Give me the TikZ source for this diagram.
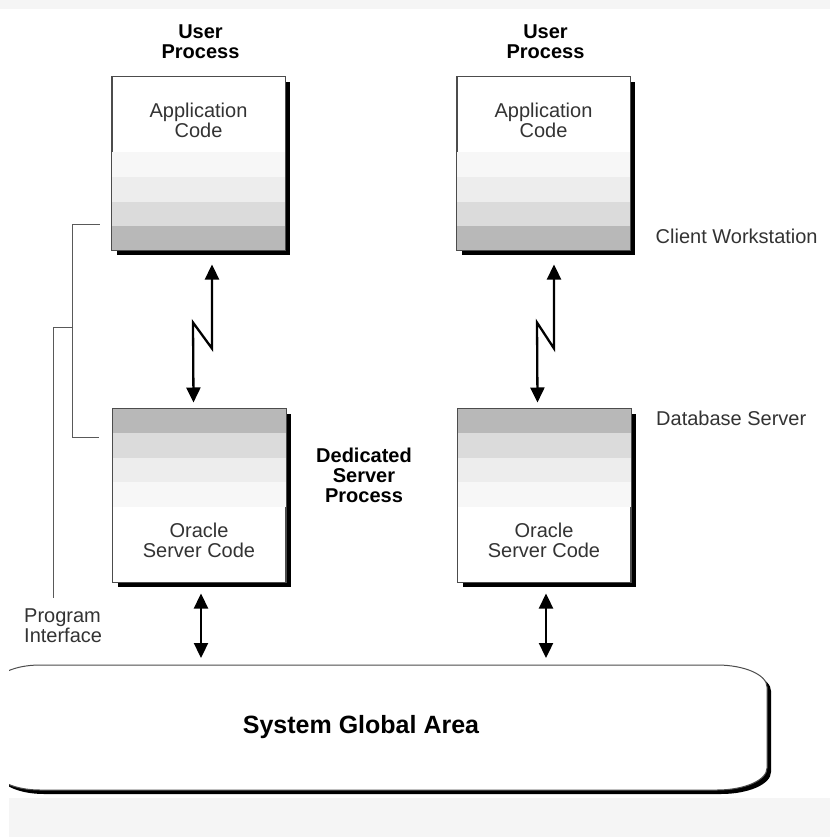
\documentclass[tikz,border=0pt]{standalone}
\usepackage{fontspec}
\setmainfont{Liberation Sans}
\usetikzlibrary{positioning,arrows.meta,shadows}

\tikzset{
  procbox/.style={draw=black!70, line width=1pt, fill=white, inner sep=0pt,
    minimum width=173pt, minimum height=173pt,
    drop shadow={shadow xshift=5pt, shadow yshift=-5pt, fill=black, opacity=1}},
  boxline/.style={draw=black!70, line width=1pt},
  lbl/.style={inner sep=0pt, align=center, text=black!80, font=\fontsize{20}{20}\selectfont},
  blbl/.style={inner sep=0pt, align=center, font=\bfseries\fontsize{20}{20}\selectfont},
  link/.style={line width=2.3pt, {Triangle[length=15pt,width=14pt]}-{Triangle[length=15pt,width=14pt]}},
  brace/.style={draw=black!65, line width=0.9pt}
}

\begin{document}
\begin{tikzpicture}[x=1pt, y=-1pt]
    \useasboundingbox (0,0) rectangle (830,837);
    \clip (0,0) rectangle (830,837);
    \fill[white] (0,0) rectangle (830,837);
    \fill[black!4] (0,0) rectangle (830,9);
    \fill[black!4] (9,798) rectangle (830,837);

    % user side and server side
    \node (app1) [procbox] at (198.5,163.5) {};
    \node (app2) [procbox] at (543.5,163.5) {};
    \node (srv1) [procbox] at (199,495.5) {};
    \node (srv2) [procbox] at (544,495.5) {};

    % grey bands
    \foreach \b in {app1,app2} {
        \foreach \i/\c in {0/28,1/14,2/7,3/3}
            \fill[black!\c] ([yshift=\i*24.5pt]\b.south west) rectangle ([yshift=\i*24.5pt+24.5pt]\b.south east);
        \draw[boxline] (\b.north west) rectangle (\b.south east);
    }
    \foreach \b in {srv1,srv2} {
        \foreach \i/\c in {0/28,1/14,2/7,3/3}
            \fill[black!\c] ([yshift=-\i*24.5pt]\b.north west) rectangle ([yshift=-\i*24.5pt-24.5pt]\b.north east);
        \draw[boxline] (\b.north west) rectangle (\b.south east);
    }

    \node [lbl, yshift=-44pt] at (app1.north) {Application\\Code};
    \node [lbl, yshift=-44pt] at (app2.north) {Application\\Code};
    \node [lbl, yshift=42pt] at (srv1.south) {Oracle\\Server Code};
    \node [lbl, yshift=42pt] at (srv2.south) {Oracle\\Server Code};

    \node (up1) [blbl, yshift=35pt, xshift=2pt] at (app1.north) {User\\Process};
    \node (up2) [blbl, yshift=35pt, xshift=2pt] at (app2.north) {User\\Process};
    \node (dsp) [blbl, xshift=78pt, yshift=20pt] at (srv1.east) {Dedicated\\Server\\Process};
    \node (cw) [lbl, anchor=west, xshift=25pt, yshift=14pt] at (app2.south east) {Client Workstation};
    \node (dbs) [lbl, anchor=west, xshift=25pt, yshift=-10pt] at (srv2.north east) {Database Server};

    % system global area, cut at the left
    \coordinate (sgaTop) at (0,665);
    \begin{scope}
        \clip (9,600) rectangle (830,798);
        \fill[black] (44,669) -- (721,669) arc[start angle=-90, end angle=0, x radius=50, y radius=22]
            -- (771,772) arc[start angle=0, end angle=90, x radius=50, y radius=22]
            -- (44,794) arc[start angle=90, end angle=180, x radius=45, y radius=20]
            -- (-1,689) arc[start angle=180, end angle=270, x radius=45, y radius=20] -- cycle;
        \filldraw[fill=white, draw=black!70, line width=1pt] (40,665) -- (717,665)
            arc[start angle=-90, end angle=0, x radius=50, y radius=22]
            -- (767,768) arc[start angle=0, end angle=90, x radius=50, y radius=22]
            -- (40,790) arc[start angle=90, end angle=180, x radius=45, y radius=20]
            -- (-5,685) arc[start angle=180, end angle=270, x radius=45, y radius=20] -- cycle;
    \end{scope}
    \node (sga) [inner sep=0pt, font=\bfseries\fontsize{25}{25}\selectfont] at (361,727) {System Global Area};

    % connections
    \draw[link] ([xshift=13.5pt, yshift=-14pt]app1.south) -- ++(0,84) -- ++(-19,-26) -- ([xshift=-5.5pt, yshift=6pt]srv1.north);
    \draw[link] ([xshift=10.5pt, yshift=-14pt]app2.south) -- ++(0,84) -- ++(-17,-26) -- ([xshift=-6.5pt, yshift=6pt]srv2.north);
    \draw[link] ([xshift=2pt, yshift=-11pt]srv1.south) -- ([xshift=2pt, yshift=7pt]srv1.south |- sgaTop);
    \draw[link] ([xshift=2pt, yshift=-11pt]srv2.south) -- ([xshift=2pt, yshift=7pt]srv2.south |- sgaTop);

    % program interface
    \node (pi) [lbl, anchor=north west, align=left] at (24,609) {Program\\Interface};
    \coordinate (piA) at ([xshift=-12pt, yshift=26pt]app1.south west);
    \coordinate (piB) at ([xshift=-13pt, yshift=-29pt]srv1.north west);
    \draw[brace] (piA) -- ++(-27,0) |- (piB);
    \coordinate (piMid) at (73,327);
    \draw[brace] (piMid) -| ([xshift=29pt, yshift=11pt]pi.north west);
\end{tikzpicture}
\end{document}
